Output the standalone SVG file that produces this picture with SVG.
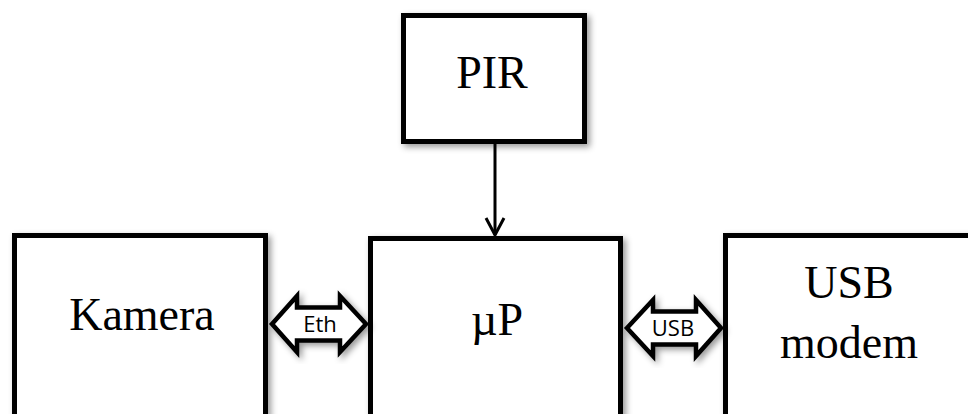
<svg xmlns="http://www.w3.org/2000/svg" width="968" height="414" viewBox="0 0 968 414">
  <defs>
    <filter id="sh" x="-20%" y="-20%" width="140%" height="140%">
      <feDropShadow dx="3" dy="3" stdDeviation="3" flood-color="#000" flood-opacity="0.4"/>
    </filter>
    <marker id="vhead" markerWidth="22" markerHeight="22" refX="19" refY="11" orient="auto" markerUnits="userSpaceOnUse" viewBox="0 0 22 22">
      <path d="M2,2 L19,11 L2,20" fill="none" stroke="#000" stroke-width="3"/>
    </marker>
  </defs>
  <style>
    .box { fill: #fff; stroke: #000; stroke-width: 5; filter: url(#sh); }
    .lbl { font-family: "Liberation Serif", "Times New Roman", serif; font-size: 46px; fill: #000; text-anchor: middle; }
    .dbl { fill: #fff; stroke: #000; stroke-width: 4.5; stroke-linejoin: miter; filter: url(#sh); }
    .small { font-family: "Open Sans", "Liberation Sans", sans-serif; font-size: 22px; fill: #000; text-anchor: middle; }
    .wire { stroke: #000; stroke-width: 3; fill: none; }
  </style>
  <rect width="968" height="414" fill="#fff"/>

  <g id="pir">
    <rect class="box" x="403.5" y="15.5" width="181" height="126"/>
    <text class="lbl" x="492" y="88">PIR</text>
  </g>

  <g id="kamera">
    <rect class="box" x="14.5" y="235.5" width="251" height="200"/>
    <text class="lbl" x="142" y="330">Kamera</text>
  </g>

  <g id="up">
    <rect class="box" x="370.5" y="238.5" width="250" height="200"/>
    <text class="lbl" x="497" y="335">µP</text>
  </g>

  <g id="usbmodem">
    <rect class="box" x="725.5" y="235.5" width="260" height="200"/>
    <text class="lbl" x="849" y="298">USB</text>
    <text class="lbl" x="849" y="358">modem</text>
  </g>

  <g id="connectors">
    <line class="wire" x1="495" y1="144" x2="495" y2="235" marker-end="url(#vhead)"/>
    <g id="eth">
      <path class="dbl" d="M272,324 L297,296 L297,307.5 L340,307.5 L340,296 L366,324 L340,352 L340,340.5 L297,340.5 L297,352 Z"/>
      <text class="small" x="320" y="332">Eth</text>
    </g>
    <g id="usb">
      <path class="dbl" d="M627,328 L653,300 L653,311.5 L696,311.5 L696,300 L721,328 L696,356 L696,344.5 L653,344.5 L653,356 Z"/>
      <text class="small" x="673" y="336">USB</text>
    </g>
  </g>
</svg>
